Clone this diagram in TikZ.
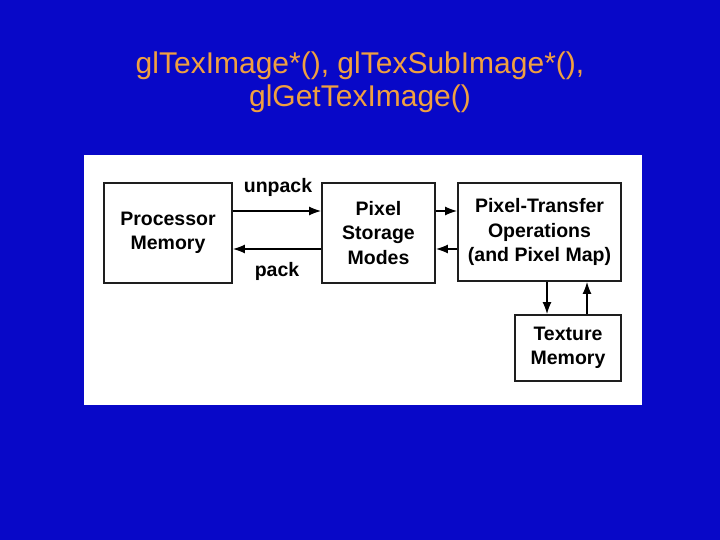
\documentclass[tikz,border=0pt]{standalone}
\usepackage{fontspec}
\setmainfont{Liberation Sans}
\usetikzlibrary{arrows.meta}

\definecolor{slideblue}{RGB}{8,8,200}
\definecolor{titleorange}{RGB}{240,160,64}
\definecolor{boxline}{RGB}{30,30,30}

\begin{document}
\begin{tikzpicture}[x=1pt, y=-1pt,
    block/.style={draw=boxline, line width=1.8pt, fill=white, align=center,
        inner sep=0pt, font=\bfseries\fontsize{19.5}{24.5}\selectfont},
    lbl/.style={font=\bfseries\fontsize{19.5}{24.5}\selectfont},
    arr/.style={line width=1.4pt, -{Latex[length=12pt,width=9pt]}}]

    \fill[slideblue] (0,0) rectangle (720,540);
    \useasboundingbox (0,0) rectangle (720,540);
    \fill[white] (84,155) rectangle (642,405);

    \node[titleorange, align=center, font=\fontsize{30}{33}\selectfont] (title) at (360,82)
        {glTexImage*(), glTexSubImage*(),\\glGetTexImage()};

    \node[block, minimum width=128pt, minimum height=100pt] (proc) at (168,233)
        {Processor\\Memory};
    \node[block, minimum width=113pt, minimum height=100pt] (store) at (378.5,233)
        {Pixel\\Storage\\Modes};
    \node[block, minimum width=163pt, minimum height=98pt] (xfer) at (539.5,232)
        {Pixel-Transfer\\Operations\\(and Pixel Map)};
    \node[block, minimum width=106pt, minimum height=66pt] (tex) at (568,348)
        {Texture\\Memory};

    \coordinate (hi) at (0,211);
    \coordinate (lo) at (0,249);
    \coordinate (dn) at (547,0);
    \coordinate (upc) at (587,0);

    \draw[arr] (proc.east |- hi) -- (store.west |- hi);
    \draw[arr] (store.west |- lo) -- (proc.east |- lo);
    \draw[arr] (store.east |- hi) -- (xfer.west |- hi);
    \draw[arr] (xfer.west |- lo) -- (store.east |- lo);
    \draw[arr] (xfer.south -| dn) -- (tex.north -| dn);
    \draw[arr] (tex.north -| upc) -- (xfer.south -| upc);

    \node[lbl] (unpacklbl) at (278,187) {unpack};
    \node[lbl] (packlbl) at (277,271) {pack};
\end{tikzpicture}
\end{document}
